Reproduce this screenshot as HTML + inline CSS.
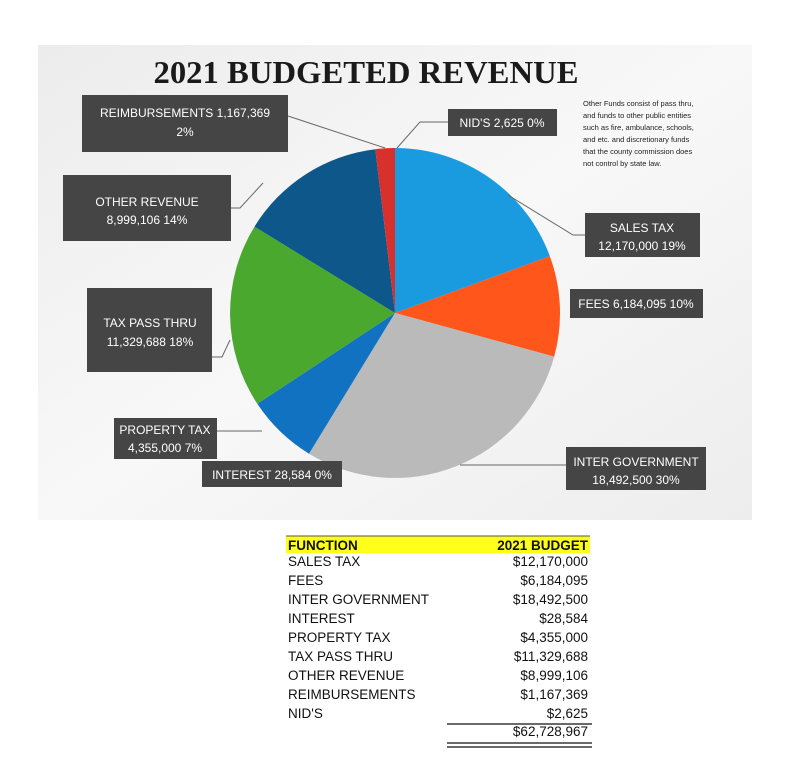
<!DOCTYPE html>
<html><head><meta charset="utf-8"><style>body{margin:0;background:#fff}svg{display:block}</style></head><body>
<svg width="788" height="775" viewBox="0 0 788 775" xmlns="http://www.w3.org/2000/svg" font-family="Liberation Sans, sans-serif">
<defs><linearGradient id="bg" x1="0" y1="0" x2="1" y2="1"><stop offset="0" stop-color="#ececec"/><stop offset="0.5" stop-color="#f8f8f8"/><stop offset="1" stop-color="#ededed"/></linearGradient></defs>
<rect x="38" y="45" width="714" height="475" fill="url(#bg)"/>
<text x="366" y="83" text-anchor="middle" font-family="Liberation Serif, serif" font-weight="bold" font-size="32" textLength="425" lengthAdjust="spacingAndGlyphs" fill="#1a1a1a">2021 BUDGETED REVENUE</text>
<g id="pie" stroke="none">
<path d="M395,313 L395.0,148.0 A165,165 0 0 1 549.8,256.1 Z" fill="#1a9be0"/>
<path d="M395,313 L549.8,256.1 A165,165 0 0 1 554.2,356.6 Z" fill="#ff561c"/>
<path d="M395,313 L554.2,356.6 A165,165 0 0 1 309.0,453.7 Z" fill="#bababa"/>
<path d="M395,313 L309.0,453.7 A165,165 0 0 1 257.3,403.8 Z" fill="#1272c2"/>
<path d="M395,313 L257.3,403.8 A165,165 0 0 1 254.5,226.6 Z" fill="#4aa82e"/>
<path d="M395,313 L254.5,226.6 A165,165 0 0 1 375.3,149.2 Z" fill="#0e578a"/>
<path d="M395,313 L375.3,149.2 A165,165 0 0 1 395,148 Z" fill="#d8302d"/>
</g>
<g stroke="#666" stroke-width="1" fill="none">
<polyline points="288,116 385,148"/>
<polyline points="448,122 420,122 397,148"/>
<polyline points="231,208 240,208 263,183"/>
<polyline points="585,235 573,235 508,195"/>
<polyline points="212,357 222,357 230,340"/>
<polyline points="217,431 262,431"/>
<polyline points="566,465 460,465"/>
</g>
<g fill="#454545">
<rect x="82" y="95" width="206" height="57"/>
<rect x="448" y="109" width="109" height="27"/>
<rect x="63" y="175" width="168" height="66"/>
<rect x="585" y="213" width="115" height="44"/>
<rect x="570" y="289" width="133" height="29"/>
<rect x="87" y="288" width="125" height="84"/>
<rect x="114" y="418" width="103" height="41"/>
<rect x="202" y="461" width="140" height="26"/>
<rect x="566" y="447" width="140" height="43"/>
</g>
<g fill="#fff" font-size="12" text-anchor="middle">
<text x="185" y="117">REIMBURSEMENTS 1,167,369</text><text x="185" y="136">2%</text>
<text x="502" y="127">NID'S 2,625  0%</text>
<text x="147" y="206">OTHER REVENUE</text><text x="147" y="224">8,999,106  14%</text>
<text x="642" y="232">SALES TAX</text><text x="642" y="250">12,170,000  19%</text>
<text x="636" y="308">FEES 6,184,095  10%</text>
<text x="150" y="327">TAX PASS THRU</text><text x="150" y="346">11,329,688  18%</text>
<text x="165" y="434">PROPERTY TAX</text><text x="165" y="452">4,355,000  7%</text>
<text x="272" y="479">INTEREST  28,584  0%</text>
<text x="636" y="466">INTER GOVERNMENT</text><text x="636" y="484">18,492,500  30%</text>
</g>
<g font-size="7.5" fill="#222">
<text x="583" y="106">Other Funds consist of pass thru,</text>
<text x="583" y="118">and funds to other public entities</text>
<text x="583" y="130">such as fire, ambulance, schools,</text>
<text x="583" y="142">and etc. and discretionary funds</text>
<text x="583" y="154">that the county commission does</text>
<text x="583" y="166">not control by state law.</text>
</g>
<rect x="286" y="536" width="304" height="17" fill="#ffff1a"/>
<line x1="286" y1="536" x2="590" y2="536" stroke="#555" stroke-width="1"/>
<g font-size="13.5" fill="#111">
<text x="288" y="550" font-weight="bold">FUNCTION</text>
<text x="588" y="550" font-weight="bold" text-anchor="end">2021 BUDGET</text>
<text x="288" y="566">SALES TAX</text><text x="588" y="566" text-anchor="end">$12,170,000</text>
<text x="288" y="585">FEES</text><text x="588" y="585" text-anchor="end">$6,184,095</text>
<text x="288" y="604">INTER GOVERNMENT</text><text x="588" y="604" text-anchor="end">$18,492,500</text>
<text x="288" y="623">INTEREST</text><text x="588" y="623" text-anchor="end">$28,584</text>
<text x="288" y="642">PROPERTY TAX</text><text x="588" y="642" text-anchor="end">$4,355,000</text>
<text x="288" y="661">TAX PASS THRU</text><text x="588" y="661" text-anchor="end">$11,329,688</text>
<text x="288" y="680">OTHER REVENUE</text><text x="588" y="680" text-anchor="end">$8,999,106</text>
<text x="288" y="699">REIMBURSEMENTS</text><text x="588" y="699" text-anchor="end">$1,167,369</text>
<text x="288" y="718">NID'S</text><text x="588" y="718" text-anchor="end">$2,625</text>
<text x="588" y="736" text-anchor="end">$62,728,967</text>
</g>
<line x1="447" y1="724" x2="592" y2="724" stroke="#111" stroke-width="1.3"/>
<line x1="447" y1="743" x2="592" y2="743" stroke="#111" stroke-width="1.3"/>
<line x1="447" y1="747" x2="592" y2="747" stroke="#111" stroke-width="1.3"/>
</svg>
</body></html>
